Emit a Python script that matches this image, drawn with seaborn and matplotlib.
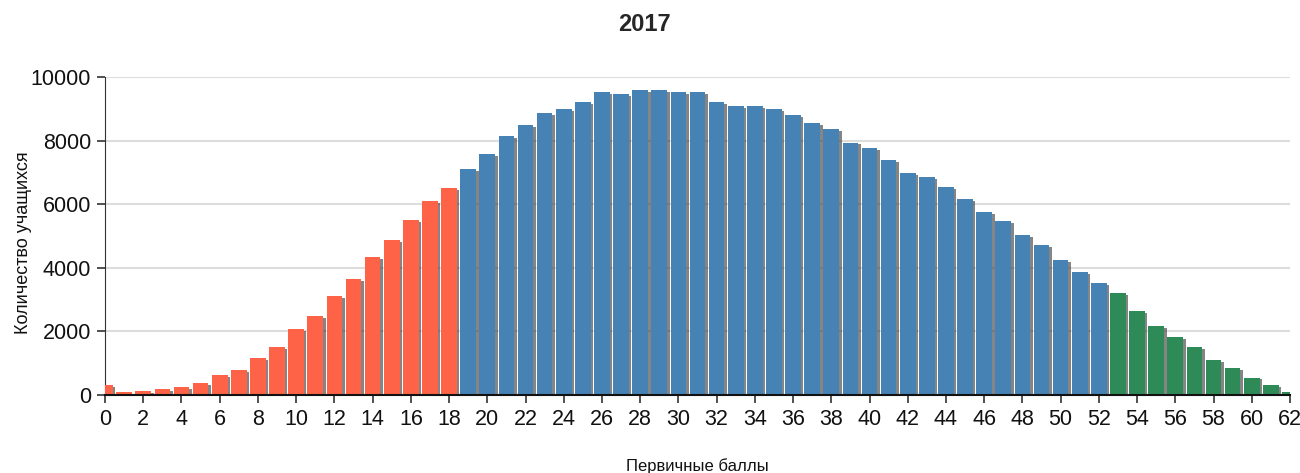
import matplotlib
matplotlib.use('Agg')
import matplotlib.pyplot as plt
import matplotlib.patheffects as pe
import pandas as pd
import seaborn as sns

# primary scores 0..62 and number of students per score
scores = list(range(63))
counts = [
    310, 80, 130, 190, 250, 370, 620, 800, 1160, 1520,
    2070, 2490, 3100, 3650, 4350, 4880, 5510, 6110, 6520,
    7110, 7580, 8130, 8490, 8860, 8980, 9220, 9520, 9460, 9580,
    9580, 9520, 9520, 9220, 9090, 9090, 8980, 8790, 8560, 8370,
    7940, 7760, 7390, 6980, 6850, 6540, 6170, 5750, 5460, 5020,
    4720, 4240, 3870, 3520,
    3200, 2650, 2170, 1820, 1510, 1100, 840, 550, 300, 110,
]
groups = ['low'] * 19 + ['mid'] * 34 + ['high'] * 10
colors = {'low': '#FF6347', 'mid': '#4682B4', 'high': '#2E8B57'}

df = pd.DataFrame({'score': scores, 'count': counts, 'group': groups})

sns.set_style('white')
narrow = ['Liberation Sans Narrow', 'DejaVu Sans Condensed', 'Liberation Sans']

fig = plt.figure(figsize=(13, 4.73), dpi=100)
ax = fig.add_axes([0.0808, 0.1649, 0.9115, 0.6723])

sns.barplot(data=df, x='score', y='count', hue='group', palette=colors,
            native_scale=True, dodge=False, saturation=1, legend=False,
            width=0.82, ax=ax, zorder=3)

shadow = [pe.SimplePatchShadow(offset=(1.8, -1.4), shadow_rgbFace='#444444', alpha=0.65),
          pe.Normal()]
for bar in ax.patches:
    bar.set_path_effects(shadow)
    bar.set_edgecolor('none')

ax.set_xlim(0, 62)
ax.set_ylim(0, 10000)
ax.set_xticks(range(0, 63, 2))
ax.set_yticks(range(0, 10001, 2000))
ax.grid(axis='y', color='#dddddd', linewidth=1.5, zorder=0)
ax.set_axisbelow(True)

for s in ['top', 'right']:
    ax.spines[s].set_visible(False)
ax.spines['left'].set_color('#333333')
ax.spines['bottom'].set_color('#111111')
ax.spines['bottom'].set_linewidth(1.5)
ax.spines['bottom'].set_zorder(5)

ax.tick_params(axis='both', direction='out', length=6, width=1.2, color='#333333',
               labelsize=15.5, labelcolor='#111111', bottom=True, left=True, pad=4)
for lab in ax.get_xticklabels() + ax.get_yticklabels():
    lab.set_family(narrow)

ax.set_xlabel('Первичные баллы', fontsize=12, family=narrow, color='#111111')
ax.set_ylabel('Количество учащихся', fontsize=13, family=['Liberation Sans', 'DejaVu Sans'],
              color='#111111')
ax.xaxis.set_label_coords(0.5, -0.198)
ax.yaxis.set_label_coords(-0.062, 0.48)
fig.suptitle('2017', x=0.496, y=0.972, fontsize=17, fontweight='bold', family=narrow)

fig.savefig('out.png', dpi=100)
